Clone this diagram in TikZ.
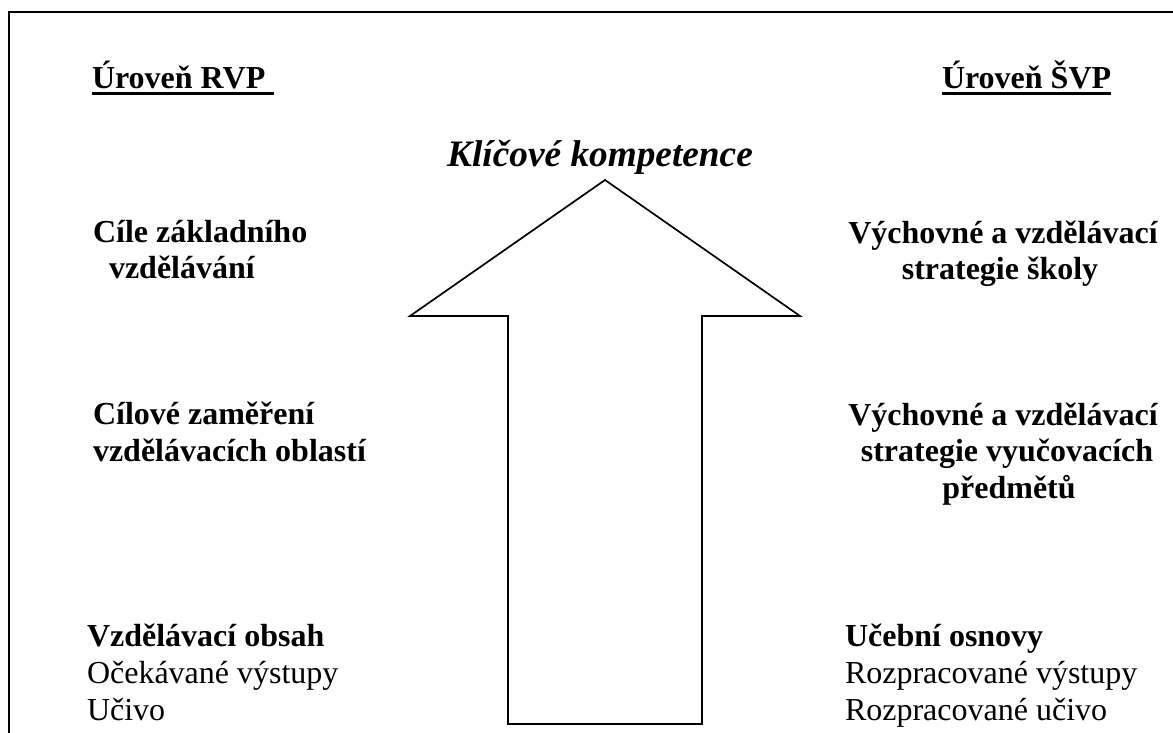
\documentclass[tikz,border=0pt]{standalone}
\usepackage{fontspec}
\setmainfont{Liberation Serif}
\usetikzlibrary{calc}
\begin{document}
\begin{tikzpicture}[x=1pt,y=-1pt,
  txt/.style={inner sep=0pt,outer sep=0pt,font=\fontsize{32}{37}\selectfont},
  btxt/.style={txt,font=\fontsize{32}{37}\selectfont\bfseries},
  lw/.style={txt,anchor=base west},
  bw/.style={btxt,anchor=base west},
  bc/.style={btxt,anchor=base},
  uline/.style={line width=3pt},
  frame/.style={line width=2pt},
  bigarrow/.style={line width=1.7pt,line join=miter}]
\useasboundingbox (0,0) rectangle (1173,733);

% open frame: top and left edges only
\draw[frame] (9,733) -- (9,12.5) -- (1173,12.5);

% level headings
\node[bw] (rvp) at (92,89) {Úroveň RVP};
\node[bw] (svp) at (942,89) {Úroveň ŠVP};
\draw[uline] ($(rvp.base west)+(0,5)$) -- ($(rvp.base east)+(9,5)$);
\draw[uline] ($(svp.base west)+(0,5)$) -- ($(svp.base east)+(0,5)$);

% key competences and the upward arrow
\node[txt,anchor=base,font=\fontsize{37.3}{42}\selectfont\bfseries\itshape] (kk) at (600,167) {Klíčové kompetence};
\draw[bigarrow] (605,180) -- (800,316) -- (702,316) -- (702,724)
  -- (508,724) -- (508,316) -- (410,316) -- cycle;

% left column (RVP)
\node[bw] (cz1) at (93,242) {Cíle základního};
\node[bw] (cz2) at (109,278) {vzdělávání};
\node[bw] (co1) at (93,424) {Cílové zaměření};
\node[bw] (co2) at (93,461) {vzdělávacích oblastí};
\node[bw] (vo) at (87,646) {Vzdělávací obsah};
\node[lw] (ov) at (87,683) {Očekávané výstupy};
\node[lw] (uc) at (87,720) {Učivo};

% right column (ŠVP)
\node[bc] (vs1) at (1003,243) {Výchovné a vzdělávací};
\node[bc] (vs2) at (1000,279) {strategie školy};
\node[bc] (vp1) at (1003,425) {Výchovné a vzdělávací};
\node[bc] (vp2) at (1007,461) {strategie vyučovacích};
\node[bc] (vp3) at (1009,498) {předmětů};
\node[bw] (uo) at (845,646) {Učební osnovy};
\node[lw] (rv) at (845,683) {Rozpracované výstupy};
\node[lw] (ru) at (845,720) {Rozpracované učivo};
\end{tikzpicture}
\end{document}
